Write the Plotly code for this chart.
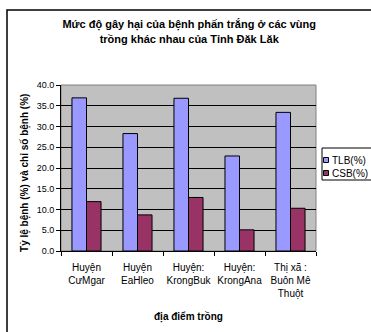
import plotly.graph_objects as go

# Địa điểm trồng
categories = [
    "Huyện<br>CưMgar",
    "Huyện<br>EaHleo",
    "Huyện:<br>KrongBuk",
    "Huyện:<br>KrongAna",
    "Thị xã :<br>Buôn Mê<br>Thuột",
]
tlb = [36.9, 28.3, 36.8, 22.9, 33.4]   # Tỷ lệ bệnh (%)
csb = [11.9, 8.7, 12.9, 5.1, 10.3]     # Chỉ số bệnh (%)
y_ticks = [0, 5, 10, 15, 20, 25, 30, 35, 40]

series = [("TLB(%)", tlb, "#9999FF"), ("CSB(%)", csb, "#993366")]

FONT = "Liberation Sans, Arial, sans-serif"
W, H = 371, 332
ML, MR, MT, MB = 61, 55, 85, 81
PW, PH = W - ML - MR, H - MT - MB


def px(x):
    """Pixel x -> paper x."""
    return (x - ML) / PW


def py(y):
    """Pixel y -> paper y."""
    return (H - MB - y) / PH


fig = go.Figure()
for name, vals, color in series:
    fig.add_trace(go.Bar(name=name, x=categories, y=vals, showlegend=False,
                         marker=dict(color=color, line=dict(color="black", width=1))))

fig.update_layout(
    width=W, height=H,
    margin=dict(l=ML, r=MR, t=MT, b=MB),
    paper_bgcolor="white",
    plot_bgcolor="#C0C0C0",
    barmode="group",
    bargap=0.43,
    bargroupgap=0,
    font=dict(family=FONT, size=9, color="black"),
    title=dict(
        text="<b>Mức độ gây hại của bệnh phấn trắng ở các vùng<br>trồng khác nhau của Tỉnh Đăk Lăk</b>",
        x=0.51, xanchor="center", y=0.915, yanchor="middle",
        font=dict(family=FONT, size=11),
    ),
)

fig.update_yaxes(
    range=[0, 40], tickvals=y_ticks, tickformat=".1f",
    showgrid=True, gridcolor="black", gridwidth=1,
    zeroline=False,
    showline=True, linecolor="black", linewidth=1,
    ticks="outside", ticklen=4, tickcolor="black",
    tickfont=dict(size=9),
)
fig.update_xaxes(
    showline=True, linecolor="black", linewidth=1,
    ticks="outside", ticklen=4, tickcolor="black",
    tickson="boundaries", tickangle=0,
    ticklabelstandoff=7,
    tickfont=dict(size=10),
)

# Viền khung vẽ (màu xám) và khung ngoài biểu đồ
fig.add_shape(type="rect", xref="paper", yref="paper", x0=0, x1=1, y0=0, y1=1,
              line=dict(color="#808080", width=1), layer="below")
fig.add_shape(type="rect", xref="paper", yref="paper",
              x0=px(7), x1=px(420), y0=py(360), y1=py(10),
              line=dict(color="black", width=1.5))

# Chú giải
fig.add_shape(type="rect", xref="paper", yref="paper",
              x0=px(322), x1=px(390), y0=py(180), y1=py(148),
              line=dict(color="black", width=1), fillcolor="white")
for i, (name, _, color) in enumerate(series):
    cy = 160 + 13 * i
    fig.add_shape(type="rect", xref="paper", yref="paper",
                  x0=px(323.5), x1=px(328.5), y0=py(cy + 2.5), y1=py(cy - 2.5),
                  line=dict(color="black", width=1), fillcolor=color)
    fig.add_annotation(text=name, xref="paper", yref="paper",
                       x=px(329.5), y=py(cy), xanchor="left", yanchor="middle",
                       showarrow=False, font=dict(family=FONT, size=10))

# Tiêu đề các trục
fig.add_annotation(text="<b>Tỷ lệ bệnh (%) và chỉ số bệnh (%)</b>", textangle=-90,
                   xref="paper", yref="paper", x=0, y=0.47, xshift=-36,
                   xanchor="center", yanchor="middle", showarrow=False,
                   font=dict(family=FONT, size=10))
fig.add_annotation(text="<b>địa điểm trồng</b>",
                   xref="paper", yref="paper", x=0.5, y=0, yshift=-66,
                   xanchor="center", yanchor="middle", showarrow=False,
                   font=dict(family=FONT, size=10))

fig.write_html("out.html")
